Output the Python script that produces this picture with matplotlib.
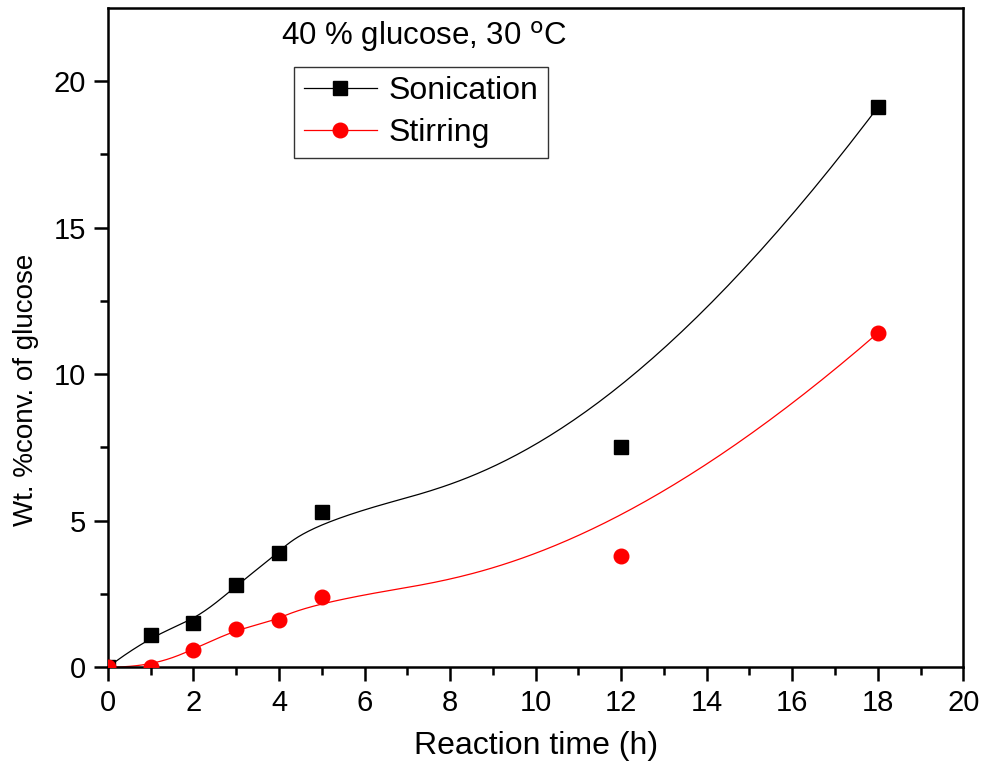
import numpy as np
import matplotlib
matplotlib.use('Agg')
from matplotlib import pyplot as plt
from matplotlib import font_manager

names = set(f.name for f in font_manager.fontManager.ttflist)
fam = 'Liberation Sans Narrow' if 'Liberation Sans Narrow' in names else 'Liberation Sans'
plt.rcParams['font.family'] = [fam, 'DejaVu Sans']

# data
time_h = [0, 1, 2, 3, 4, 5, 12, 18]
sonication = [0, 1.1, 1.5, 2.8, 3.9, 5.3, 7.5, 19.1]
stirring = [0, 0, 0.6, 1.3, 1.6, 2.4, 3.8, 11.4]


def bspline(xs, ys, n=400, k=3):
    # clamped cubic B-spline using the points as control points
    P = np.column_stack([xs, ys]).astype(float)
    m = len(P)
    inner = np.arange(1, m - k)
    t = np.concatenate([np.zeros(k + 1), inner, np.full(k + 1, m - k)])
    us = np.linspace(0, m - k, n)
    out = []
    for u in us:
        if u >= t[-1]:
            out.append(P[-1])
            continue
        j = np.searchsorted(t, u, side='right') - 1
        d = [P[j - k + i].copy() for i in range(k + 1)]
        for r in range(1, k + 1):
            for i in range(k, r - 1, -1):
                a = (u - t[j - k + i]) / (t[j + 1 + i - r] - t[j - k + i])
                d[i] = (1 - a) * d[i - 1] + a * d[i]
        out.append(d[k])
    out = np.array(out)
    return out[:, 0], out[:, 1]


fig = plt.figure(figsize=(9.81, 7.66), dpi=100)
ax = fig.add_axes([0.110, 0.129, 0.872, 0.861])

bx, by = bspline(time_h, sonication)
rx, ry = bspline(time_h, stirring)
ax.plot(bx, by, color='black', lw=0.9, zorder=2)
ax.plot(rx, ry, color='red', lw=0.9, zorder=2)
ax.plot(time_h, sonication, 's', color='black', ms=9.5, zorder=3)
ax.plot(time_h, stirring, 'o', color='red', ms=10.5, zorder=3)

ax.set_xlim(0, 20)
ax.set_ylim(0, 22.5)
ax.set_xticks(range(0, 21, 2))
ax.set_xticks(range(1, 20, 2), minor=True)
ax.set_yticks([0, 5, 10, 15, 20])
ax.set_yticks([2.5, 7.5, 12.5, 17.5], minor=True)
ax.tick_params(which='major', direction='out', length=10, width=1.8, labelsize=21, pad=6)
ax.tick_params(which='minor', direction='out', length=6, width=1.8)
for s in ax.spines.values():
    s.set_linewidth(1.8)

ax.set_xlabel('Reaction time (h)', fontsize=23, labelpad=10)
ax.set_ylabel('Wt. %conv. of glucose', fontsize=20)
ax.yaxis.set_label_coords(-0.08, 0.42)

ax.text(0.37, 0.957, r'40 % glucose, 30 $^{\mathrm{o}}$C', transform=ax.transAxes,
        fontsize=22.5, ha='center', va='center')

h1, = ax.plot([], [], 's-', color='black', ms=9.5, lw=0.9, label='Sonication')
h2, = ax.plot([], [], 'o-', color='red', ms=10.5, lw=0.9, label='Stirring')
leg = ax.legend(handles=[h1, h2], loc='upper left', bbox_to_anchor=(0.2175, 0.9105),
                borderaxespad=0, fontsize=23, frameon=True, fancybox=False,
                edgecolor='black', handlelength=2.3, borderpad=0.3,
                labelspacing=0.38, handletextpad=0.35)
leg.get_frame().set_linewidth(1.0)

fig.savefig('out.png', dpi=100)
